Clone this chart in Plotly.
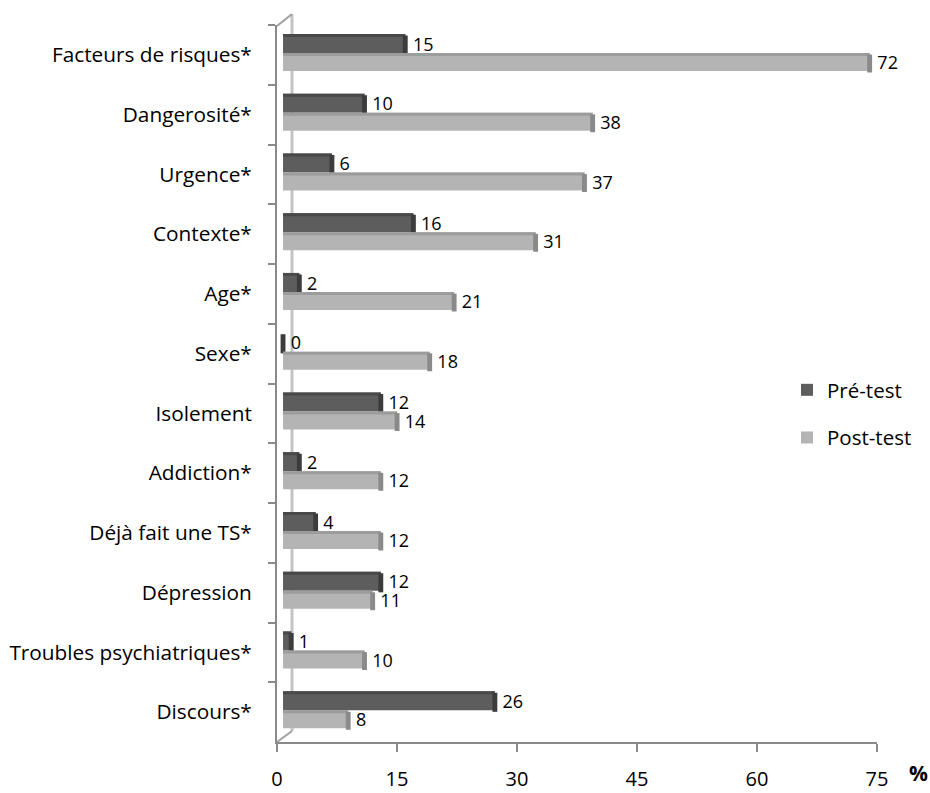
import plotly.graph_objects as go

categories = ["Facteurs de risques*", "Dangerosité*", "Urgence*", "Contexte*", "Age*", "Sexe*",
              "Isolement", "Addiction*", "Déjà fait une TS*", "Dépression",
              "Troubles psychiatriques*", "Discours*"]
pre_test = [15, 10, 6, 16, 2, 0, 12, 2, 4, 12, 1, 26]
post_test = [72, 38, 37, 31, 21, 18, 14, 12, 12, 11, 10, 8]
x_ticks = [0, 15, 30, 45, 60, 75]

FONT = "Open Sans"
NB = "\u00a0"

# series styling: face, top face, end cap
SERIES = [
    dict(name="Pré-test", values=pre_test, face="#5d5d5d", top="#494949", cap="#3c3c3c",
         offset=-0.35, width=0.32, group="a"),
    dict(name="Post-test", values=post_test, face="#b4b4b4", top="#9c9c9c", cap="#8a8a8a",
         offset=-0.03, width=0.30, group="b"),
]
CAP = 0.6      # depth of the 3D end face, in value units
TOPW = 0.05    # thickness of the 3D top face, in category units

# pixel helpers for decorative wall lines
L, R, T, B = 277, 877, 25, 742
def px(x):
    return (x - L) / (R - L)
def py(y):
    return (B - y) / (B - T)

fig = go.Figure()
# invisible anchor trace so the visible value axis is drawn
fig.add_trace(go.Scatter(x=[0], y=[categories[0]], mode="markers", marker=dict(opacity=0),
                         showlegend=False, hoverinfo="skip", xaxis="x", yaxis="y"))

for s in SERIES:
    vals = s["values"]
    fig.add_trace(go.Bar(
        y=categories, x=vals, orientation="h", name=s["name"],
        marker=dict(color=s["face"], line=dict(width=0)),
        offset=s["offset"], width=s["width"],
        text=[NB + str(v) for v in vals], textposition="outside",
        textfont=dict(family=FONT, size=18, color="black"),
        constraintext="none", cliponaxis=False,
        xaxis="x2", legendgroup=s["group"],
    ))
    # top face
    fig.add_trace(go.Bar(
        y=categories, x=vals, orientation="h", showlegend=False, hoverinfo="skip",
        marker=dict(color=s["top"], line=dict(width=0)),
        offset=s["offset"], width=TOPW, xaxis="x2", legendgroup=s["group"],
    ))
    # end face
    fig.add_trace(go.Bar(
        y=categories, x=[CAP] * len(vals), base=[v - CAP / 2 for v in vals],
        orientation="h", showlegend=False, hoverinfo="skip",
        marker=dict(color=s["cap"], line=dict(width=0)),
        offset=s["offset"] + TOPW / 2, width=s["width"], xaxis="x2", legendgroup=s["group"],
    ))

shapes = [
    dict(type="line", xref="paper", yref="paper", x0=px(292), x1=px(292), y0=py(14), y1=py(731),
         line=dict(color="#c4c4c4", width=3), layer="below"),
    dict(type="line", xref="paper", yref="paper", x0=px(277), x1=px(292), y0=py(26), y1=py(14),
         line=dict(color="#a0a0a0", width=2), layer="below"),
    dict(type="line", xref="paper", yref="paper", x0=px(277), x1=px(292), y0=py(742), y1=py(731),
         line=dict(color="#a0a0a0", width=2), layer="below"),
]

fig.update_layout(
    width=930, height=793,
    margin=dict(l=L, r=930 - R, t=T, b=793 - B),
    paper_bgcolor="white", plot_bgcolor="white",
    font=dict(family=FONT, size=20, color="black"),
    barmode="overlay",
    xaxis=dict(range=[0, 75], tickvals=x_ticks, ticktext=[str(v) for v in x_ticks],
               showgrid=False, zeroline=False, showline=True, linecolor="#8a8a8a", linewidth=2,
               ticks="outside", ticklen=8, tickwidth=2, tickcolor="#8a8a8a",
               ticklabelstandoff=10, tickfont=dict(size=20), automargin=False),
    xaxis2=dict(range=[-0.74, 72.9], overlaying="x", visible=False),
    yaxis=dict(range=[len(categories) - 0.5, -0.5], showgrid=False, zeroline=False, showline=True,
               linecolor="#8a8a8a", linewidth=2, ticks="outside", ticklen=7, tickwidth=2,
               tickcolor="#8a8a8a", tickson="boundaries", ticklabelstandoff=19,
               tickfont=dict(size=20.8), automargin=False),
    legend=dict(x=px(787), y=py(414), xanchor="left", yanchor="middle",
                traceorder="grouped", tracegroupgap=18, font=dict(size=20.5),
                bgcolor="rgba(0,0,0,0)"),
    shapes=shapes,
    annotations=[dict(text="<b>%</b>", x=px(918), y=py(773), xref="paper", yref="paper",
                      xanchor="center", yanchor="middle",
                      showarrow=False, font=dict(size=21, family=FONT))],
)

fig.write_html("out.html")
